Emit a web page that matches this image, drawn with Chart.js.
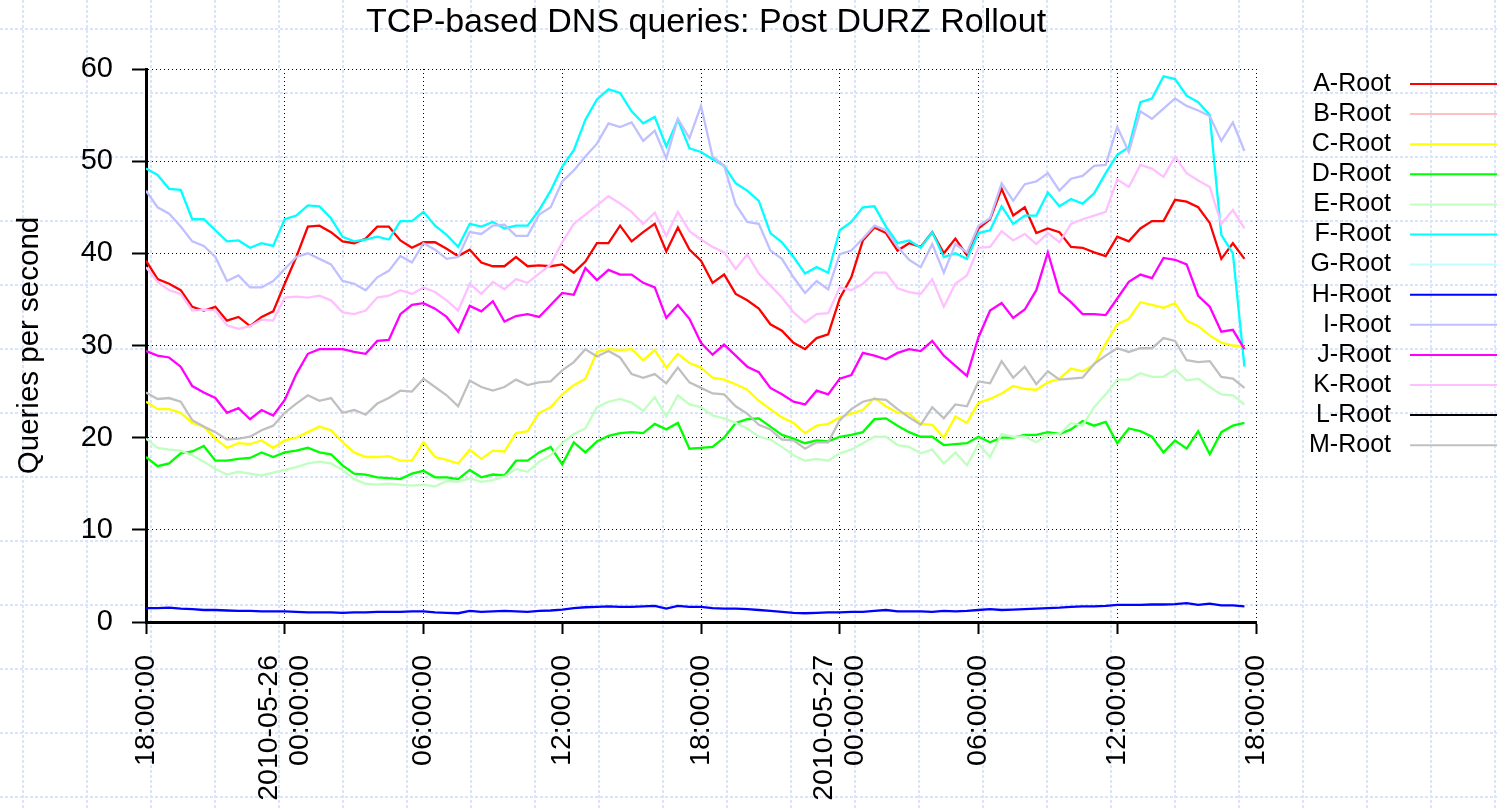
<!DOCTYPE html>
<html lang="en">

<head>
    <meta charset="UTF-8">
    <title>TCP-based DNS queries: Post DURZ Rollout</title>
    <script src="https://cdn.jsdelivr.net/npm/chart.js"></script>
    <style>
        * {
            margin: 0;
            padding: 0;
            box-sizing: border-box;
        }

        body {
            background: #ffffff;
            width: 1497px;
            height: 810px;
            overflow: hidden;
        }

        #wrap {
            position: relative;
            width: 1497px;
            height: 810px;
        }
    </style>
</head>

<body>
    <div id="wrap"><canvas id="dnsChart"></canvas></div>

    <script>
        // x = half-hour slot, 0 = 2010-05-25 18:00:00
        const tickSlots = [0, 12, 24, 36, 48, 60, 72, 84, 96];
        const tickLabels = ['18:00:00', ['2010-05-26', '00:00:00'], '06:00:00', '12:00:00', '18:00:00',
            ['2010-05-27', '00:00:00'], '06:00:00', '12:00:00', '18:00:00'];

        const aRoot = [39.2, 37.2, 36.7, 36.0, 34.2, 33.8, 34.2, 32.7, 33.1, 32.1, 33.1, 33.7,
            36.7, 39.6, 42.9, 43.0, 42.3, 41.3, 41.1, 41.6, 42.9, 42.9, 41.4, 40.6,
            41.2, 41.2, 40.5, 39.7, 40.4, 39.0, 38.6, 38.6, 39.6, 38.6, 38.7, 38.6,
            38.8, 37.9, 39.1, 41.1, 41.1, 43.0, 41.3, 42.3, 43.2, 40.2, 42.8, 40.4,
            39.2, 36.8, 37.7, 35.6, 34.9, 34.0, 32.3, 31.6, 30.3, 29.6, 30.8, 31.2,
            35.1, 37.4, 41.4, 42.8, 42.2, 40.3, 41.1, 40.7, 42.3, 40.0, 41.6, 39.8,
            42.7, 43.7, 47.0, 44.1, 45.0, 42.2, 42.7, 42.3, 40.7, 40.6, 40.1, 39.7,
            41.8, 41.3, 42.7, 43.5, 43.5, 45.8, 45.6, 45.0, 43.3, 39.4, 41.1, 39.4];
        const bRoot = [];
        const cRoot = [23.9, 23.1, 23.1, 22.7, 21.6, 21.2, 19.9, 18.9, 19.4, 19.3, 19.7, 18.9,
            19.7, 20.0, 20.6, 21.2, 20.8, 19.5, 18.4, 17.9, 17.9, 18.0, 17.5, 17.5,
            19.5, 17.9, 17.6, 17.2, 18.7, 17.7, 18.6, 18.5, 20.5, 20.7, 22.7, 23.3,
            24.7, 25.7, 26.4, 29.3, 29.6, 29.5, 29.6, 28.4, 29.5, 27.6, 29.1, 28.1,
            27.6, 26.5, 26.3, 25.8, 25.2, 24.0, 23.1, 22.2, 21.6, 20.5, 21.3, 21.5,
            22.2, 22.6, 23.0, 24.3, 23.4, 22.7, 22.6, 21.5, 21.4, 20.0, 22.3, 21.6,
            23.8, 24.2, 24.8, 25.6, 25.3, 25.2, 26.0, 26.4, 27.5, 27.2, 27.9, 30.2,
            32.3, 32.9, 34.7, 34.4, 34.1, 34.6, 32.7, 32.1, 31.1, 30.3, 30.0, 29.9];
        const dRoot = [17.9, 16.9, 17.2, 18.3, 18.5, 19.1, 17.5, 17.5, 17.7, 17.8, 18.4, 17.9,
            18.4, 18.6, 18.9, 18.4, 18.2, 17.0, 16.1, 16.0, 15.7, 15.6, 15.5, 16.1,
            16.4, 15.7, 15.7, 15.5, 16.5, 15.7, 16.0, 15.9, 17.5, 17.5, 18.4, 19.0,
            17.1, 19.5, 18.4, 19.6, 20.2, 20.5, 20.6, 20.5, 21.5, 20.9, 21.6, 18.8,
            18.9, 19.0, 20.0, 21.6, 22.0, 22.1, 21.2, 20.3, 19.9, 19.4, 19.7, 19.6,
            20.1, 20.3, 20.6, 22.0, 22.1, 21.3, 20.6, 20.1, 20.1, 19.2, 19.3, 19.4,
            20.1, 19.5, 20.0, 20.0, 20.3, 20.3, 20.6, 20.4, 20.9, 21.8, 21.3, 21.7,
            19.4, 21.0, 20.7, 20.1, 18.4, 19.7, 18.8, 20.7, 18.2, 20.6, 21.3, 21.6];
        const eRoot = [19.9, 18.9, 18.7, 18.6, 18.1, 17.4, 16.6, 16.0, 16.3, 16.1, 15.9, 16.2,
            16.5, 16.8, 17.2, 17.4, 17.2, 16.5, 15.5, 15.0, 14.9, 15.0, 14.9, 14.8,
            14.9, 14.7, 15.3, 15.2, 15.6, 15.2, 15.4, 15.8, 16.6, 16.3, 17.4, 18.1,
            19.4, 20.4, 21.0, 23.3, 23.9, 24.2, 23.8, 22.9, 24.4, 22.3, 24.6, 23.6,
            23.3, 22.4, 22.1, 21.6, 21.0, 20.1, 19.8, 19.0, 18.1, 17.5, 17.7, 17.5,
            18.3, 18.7, 19.4, 20.1, 20.1, 19.2, 19.0, 18.3, 18.7, 17.2, 18.4, 17.0,
            19.3, 17.9, 20.4, 20.1, 20.1, 19.5, 20.3, 20.4, 21.6, 21.3, 23.3, 24.7,
            26.3, 26.3, 27.0, 26.6, 26.6, 27.4, 26.2, 26.4, 25.5, 24.7, 24.6, 23.6];
        const fRoot = [49.2, 48.5, 47.0, 46.9, 43.7, 43.7, 42.5, 41.3, 41.4, 40.6, 41.1, 40.8,
            43.7, 44.1, 45.2, 45.1, 43.8, 41.8, 41.3, 41.5, 41.8, 41.5, 43.5, 43.5,
            44.5, 43.0, 42.0, 40.7, 43.2, 42.9, 43.4, 42.7, 43.0, 43.0, 44.7, 46.8,
            49.4, 51.2, 54.5, 56.7, 57.8, 57.4, 55.4, 54.1, 54.8, 51.6, 54.5, 51.4,
            51.0, 50.2, 49.5, 47.6, 46.8, 45.7, 42.2, 41.2, 39.6, 37.8, 38.5, 37.9,
            42.5, 43.4, 45.0, 45.1, 42.9, 41.1, 41.4, 40.6, 42.3, 39.6, 40.0, 39.4,
            42.2, 42.5, 45.1, 43.2, 44.1, 44.1, 46.6, 45.1, 45.9, 45.4, 46.5, 48.7,
            50.7, 51.5, 56.4, 56.8, 59.2, 58.9, 57.1, 56.4, 55.0, 42.0, 40.0, 27.7];
        const gRoot = [];
        const hRoot = [1.5, 1.5, 1.55, 1.45, 1.4, 1.3, 1.3, 1.25, 1.2, 1.2, 1.15, 1.15,
            1.15, 1.1, 1.05, 1.05, 1.05, 1.0, 1.05, 1.05, 1.1, 1.1, 1.1, 1.15,
            1.15, 1.05, 1.0, 0.95, 1.2, 1.1, 1.15, 1.2, 1.15, 1.1, 1.2, 1.25,
            1.35, 1.5, 1.6, 1.65, 1.7, 1.65, 1.65, 1.7, 1.75, 1.45, 1.75, 1.65,
            1.65, 1.5, 1.45, 1.45, 1.4, 1.3, 1.2, 1.1, 1.0, 0.95, 1.0, 1.05,
            1.05, 1.1, 1.1, 1.2, 1.3, 1.15, 1.15, 1.15, 1.1, 1.2, 1.15, 1.2,
            1.3, 1.4, 1.3, 1.35, 1.4, 1.45, 1.5, 1.55, 1.65, 1.7, 1.7, 1.75,
            1.85, 1.85, 1.85, 1.9, 1.9, 1.95, 2.05, 1.85, 2.0, 1.8, 1.8, 1.7];
        const iRoot = [46.8, 45.0, 44.3, 42.9, 41.3, 40.8, 39.6, 37.0, 37.6, 36.3, 36.3, 37.0,
            38.3, 39.6, 40.0, 39.4, 38.8, 37.0, 36.7, 36.0, 37.4, 38.1, 39.7, 39.0,
            41.1, 40.4, 39.4, 39.6, 42.3, 42.1, 43.0, 43.1, 41.9, 41.9, 44.2, 45.0,
            47.8, 49.0, 50.5, 51.9, 54.1, 53.7, 54.2, 52.2, 53.3, 50.3, 54.6, 52.5,
            56.0, 50.5, 49.5, 45.3, 43.4, 43.2, 40.3, 39.4, 37.4, 35.7, 37.0, 36.1,
            39.9, 40.3, 41.6, 43.0, 42.5, 40.7, 39.3, 38.5, 41.0, 37.9, 41.0, 40.1,
            43.0, 43.8, 47.6, 45.7, 47.5, 47.8, 48.7, 46.8, 48.1, 48.4, 49.5, 49.6,
            53.7, 51.0, 55.4, 54.6, 55.7, 56.8, 56.0, 55.5, 54.9, 52.2, 54.2, 51.1];
        const jRoot = [29.4, 28.9, 28.7, 27.7, 25.6, 24.9, 24.3, 22.7, 23.2, 22.0, 23.0, 22.4,
            24.1, 26.9, 29.1, 29.6, 29.6, 29.6, 29.3, 29.1, 30.5, 30.6, 33.4, 34.4,
            34.6, 34.0, 33.1, 31.5, 34.3, 33.7, 34.8, 32.6, 33.2, 33.4, 33.1, 34.4,
            35.7, 35.5, 38.4, 37.1, 38.2, 37.7, 37.7, 36.8, 36.3, 33.0, 34.4, 32.9,
            30.3, 29.0, 30.1, 28.9, 27.7, 27.1, 25.4, 24.7, 23.9, 23.6, 25.1, 24.7,
            26.4, 26.8, 29.2, 28.9, 28.5, 29.2, 29.6, 29.4, 30.5, 28.9, 27.8, 26.7,
            30.9, 33.8, 34.6, 33.0, 33.9, 36.0, 40.1, 35.8, 34.7, 33.4, 33.4, 33.3,
            35.1, 36.9, 37.7, 37.3, 39.5, 39.3, 38.8, 35.4, 34.2, 31.5, 31.7, 29.6];
        const kRoot = [38.5, 36.9, 36.0, 35.6, 33.8, 33.9, 33.8, 32.2, 31.8, 32.1, 32.8, 32.7,
            35.2, 35.3, 35.2, 35.4, 34.9, 33.6, 33.4, 33.8, 35.2, 35.4, 36.0, 35.6,
            36.3, 35.8, 34.9, 33.8, 36.7, 35.6, 36.9, 36.1, 37.2, 36.8, 37.8, 38.8,
            41.2, 43.2, 44.2, 45.2, 46.2, 45.4, 44.5, 43.2, 44.4, 41.9, 44.5, 42.4,
            41.5, 40.7, 40.1, 38.3, 39.9, 37.8, 36.5, 35.2, 33.6, 32.5, 33.4, 33.5,
            36.3, 36.0, 36.7, 37.9, 37.9, 36.2, 35.8, 35.6, 37.2, 34.2, 36.7, 37.6,
            40.6, 40.7, 42.4, 41.4, 42.1, 41.0, 42.2, 41.2, 43.2, 43.7, 44.1, 44.5,
            48.0, 47.2, 49.6, 49.2, 48.3, 50.5, 48.7, 47.9, 47.2, 43.2, 44.7, 42.7];
        const lRoot = [];
        const mRoot = [24.9, 24.2, 24.3, 23.9, 21.9, 21.2, 20.6, 19.8, 19.9, 20.1, 20.8, 21.3,
            22.7, 23.7, 24.6, 24.0, 24.3, 22.7, 23.0, 22.5, 23.7, 24.3, 25.1, 25.0,
            26.4, 25.5, 24.6, 23.4, 26.2, 25.5, 25.1, 25.5, 26.3, 25.7, 26.0, 26.1,
            27.3, 28.2, 29.6, 28.8, 29.4, 28.7, 26.9, 26.5, 26.9, 25.9, 27.6, 26.0,
            25.4, 24.8, 24.7, 23.4, 22.6, 21.4, 20.9, 19.8, 19.7, 18.8, 19.5, 19.5,
            21.9, 23.1, 23.9, 24.2, 24.1, 23.1, 22.2, 21.4, 23.3, 22.1, 23.6, 23.4,
            26.1, 25.9, 28.3, 26.5, 27.7, 25.8, 27.2, 26.3, 26.4, 26.5, 28.0, 28.9,
            29.7, 29.3, 29.7, 29.7, 30.8, 30.5, 28.4, 28.2, 28.3, 26.6, 26.4, 25.4];

        const roots = [
            ['A-Root', '#ff0000', aRoot],
            ['B-Root', '#ffc0c0', bRoot],
            ['C-Root', '#ffff00', cRoot],
            ['D-Root', '#00ff00', dRoot],
            ['E-Root', '#c0ffc0', eRoot],
            ['F-Root', '#00ffff', fRoot],
            ['G-Root', '#c0ffff', gRoot],
            ['H-Root', '#0000ff', hRoot],
            ['I-Root', '#c0c0ff', iRoot],
            ['J-Root', '#ff00ff', jRoot],
            ['K-Root', '#ffc0ff', kRoot],
            ['L-Root', '#000000', lRoot],
            ['M-Root', '#c0c0c0', mRoot]
        ];

        const FONT = '"Liberation Sans", Arial, Helvetica, sans-serif';
        Chart.defaults.font.family = FONT;
        Chart.defaults.color = '#000000';

        // light blue dashed "graph paper" behind the whole page
        const paperGrid = {
            id: 'paperGrid',
            beforeDraw(chart) {
                const ctx = chart.ctx;
                const w = chart.width, h = chart.height;
                ctx.save();
                ctx.fillStyle = '#ffffff';
                ctx.fillRect(0, 0, w, h);
                ctx.strokeStyle = 'rgba(170, 190, 250, 0.42)';
                ctx.lineWidth = 2;
                ctx.setLineDash([3, 2]);
                ctx.beginPath();
                for (let x = 23; x < w; x += 64) { ctx.moveTo(x, 0); ctx.lineTo(x, h); }
                for (let y = 29; y < h; y += 64) { ctx.moveTo(0, y); ctx.lineTo(w, y); }
                ctx.stroke();
                ctx.restore();
            }
        };

        // centre the two-line date labels on their tick
        const centerDateTicks = {
            id: 'centerDateTicks',
            beforeDraw(chart) {
                const scale = chart.scales.x;
                scale.getLabelItems(chart.chartArea).forEach(item => {
                    if (Array.isArray(item.label) && !item.centered) {
                        item.options.translation[0] -= item.font.lineHeight / 2;
                        item.centered = true;
                    }
                });
            }
        };

        const titleAndLegend = {
            id: 'titleAndLegend',
            afterDraw(chart) {
                const ctx = chart.ctx;
                ctx.save();
                ctx.fillStyle = '#000000';
                ctx.textAlign = 'center';
                ctx.textBaseline = 'middle';
                ctx.font = '34px ' + FONT;
                ctx.fillText('TCP-based DNS queries: Post DURZ Rollout', 706, 23);

                ctx.font = '25px ' + FONT;
                ctx.textAlign = 'right';
                chart.data.datasets.forEach((ds, k) => {
                    const y = 84 + k * 30.1;
                    ctx.fillStyle = '#000000';
                    ctx.fillText(ds.label, 1391, y);
                    ctx.strokeStyle = ds.borderColor;
                    ctx.lineWidth = 2;
                    ctx.beginPath();
                    ctx.moveTo(1410, y);
                    ctx.lineTo(1497, y);
                    ctx.stroke();
                });
                ctx.restore();
            }
        };

        const ctx = document.getElementById('dnsChart').getContext('2d');

        new Chart(ctx, {
            type: 'line',
            data: {
                datasets: roots.map(([label, color, values], k) => ({
                    label: label,
                    data: values.map((v, i) => ({ x: i, y: v })),
                    borderColor: color,
                    backgroundColor: color,
                    borderWidth: 2.3,
                    pointRadius: 0,
                    fill: false,
                    tension: 0,
                    order: roots.length - k // later roots drawn on top
                }))
            },
            options: {
                responsive: true,
                maintainAspectRatio: false,
                animation: false,
                layout: {
                    padding: { top: 69, right: 241, left: 0, bottom: 0 }
                },
                plugins: {
                    legend: { display: false },
                    tooltip: { enabled: false }
                },
                scales: {
                    x: {
                        type: 'linear',
                        min: 0,
                        max: 96,
                        ticks: {
                            stepSize: 12,
                            autoSkip: false,
                            minRotation: 90,
                            maxRotation: 90,
                            padding: 21,
                            font: { size: 28.5, lineHeight: 1.07 },
                            callback: (value, index) => tickLabels[tickSlots.indexOf(value)]
                        },
                        grid: {
                            color: '#000000',
                            lineWidth: 1,
                            tickLength: 12,
                            tickWidth: 2,
                            tickColor: '#000000'
                        },
                        border: { color: '#000000', width: 3, dash: [1, 3] },
                        afterFit(scale) { scale.height = 188; }
                    },
                    y: {
                        min: 0,
                        max: 60,
                        ticks: {
                            stepSize: 10,
                            padding: 19,
                            font: { size: 29 }
                        },
                        grid: {
                            color: '#000000',
                            lineWidth: 1,
                            tickLength: 14,
                            tickWidth: 2,
                            tickColor: '#000000'
                        },
                        border: { color: '#000000', width: 3, dash: [1, 3] },
                        title: {
                            display: true,
                            text: 'Queries per second',
                            font: { size: 29.5 },
                            padding: { top: 12, bottom: 0 }
                        },
                        afterFit(scale) { scale.width = 146; }
                    }
                }
            },
            plugins: [paperGrid, centerDateTicks, titleAndLegend]
        });
    </script>
</body>

</html>
